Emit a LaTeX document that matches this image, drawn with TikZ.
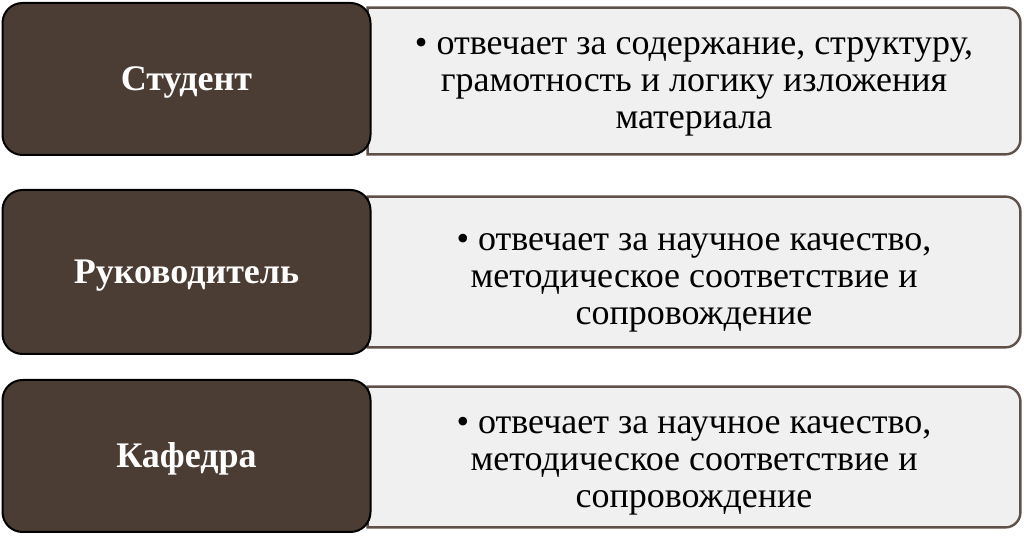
\documentclass[tikz,border=0pt]{standalone}
\usepackage{fontspec}
\setmainfont{Liberation Serif}
\usetikzlibrary{backgrounds}
\definecolor{rolebrown}{HTML}{4B3D34}
\definecolor{descfill}{HTML}{F0F0F0}
\definecolor{descline}{HTML}{5F5049}
\begin{document}
\begin{tikzpicture}[x=0.5pt,y=-0.5pt]
\tikzstyle{role}=[draw=black,line width=1pt,fill=rolebrown,rounded corners=10pt,text=white,font=\fontsize{18}{18}\selectfont\bfseries,minimum width=184pt,minimum height=76pt,inner sep=0pt,text height=12pt,text depth=0pt]
\tikzstyle{desc}=[inner sep=0pt,minimum width=326pt,minimum height=73pt]
\tikzstyle{desctext}=[align=center,font=\fontsize{18}{18.5}\selectfont,inner sep=0pt]
\tikzstyle{descbox}=[fill=descfill,draw=descline,line width=1.2pt]
\useasboundingbox (0,0) rectangle (1024,544);
% descriptions
\node [desc] (d1) at (694,81) {};
\node [desc,minimum height=75pt] (d2) at (694,272) {};
\node [desc,minimum height=70pt] (d3) at (694,457) {};
\foreach \d in {d1,d2,d3}
  \draw [descbox] (\d.south west) -- (\d.north west) -- ([xshift=-7.5pt]\d.north east) arc (90:0:7.5pt) -- ([yshift=7.5pt]\d.south east) arc (0:-90:7.5pt) -- cycle;
\node [desctext] (t1) at (694,87) {\textbullet{} отвечает за содержание, структуру,\\грамотность и логику изложения\\материала};
\node [desctext] (t2) at (694,283) {\textbullet{} отвечает за научное качество,\\методическое соответствие и\\сопровождение};
\node [desctext] (t3) at (694,466) {\textbullet{} отвечает за научное качество,\\методическое соответствие и\\сопровождение};
% roles
\node [role] (r1) at (186.5,79) {Студент};
\node [role,minimum height=82pt] (r2) at (186.5,272) {Руководитель};
\node [role] (r3) at (186.5,456) {Кафедра};
\end{tikzpicture}
\end{document}
